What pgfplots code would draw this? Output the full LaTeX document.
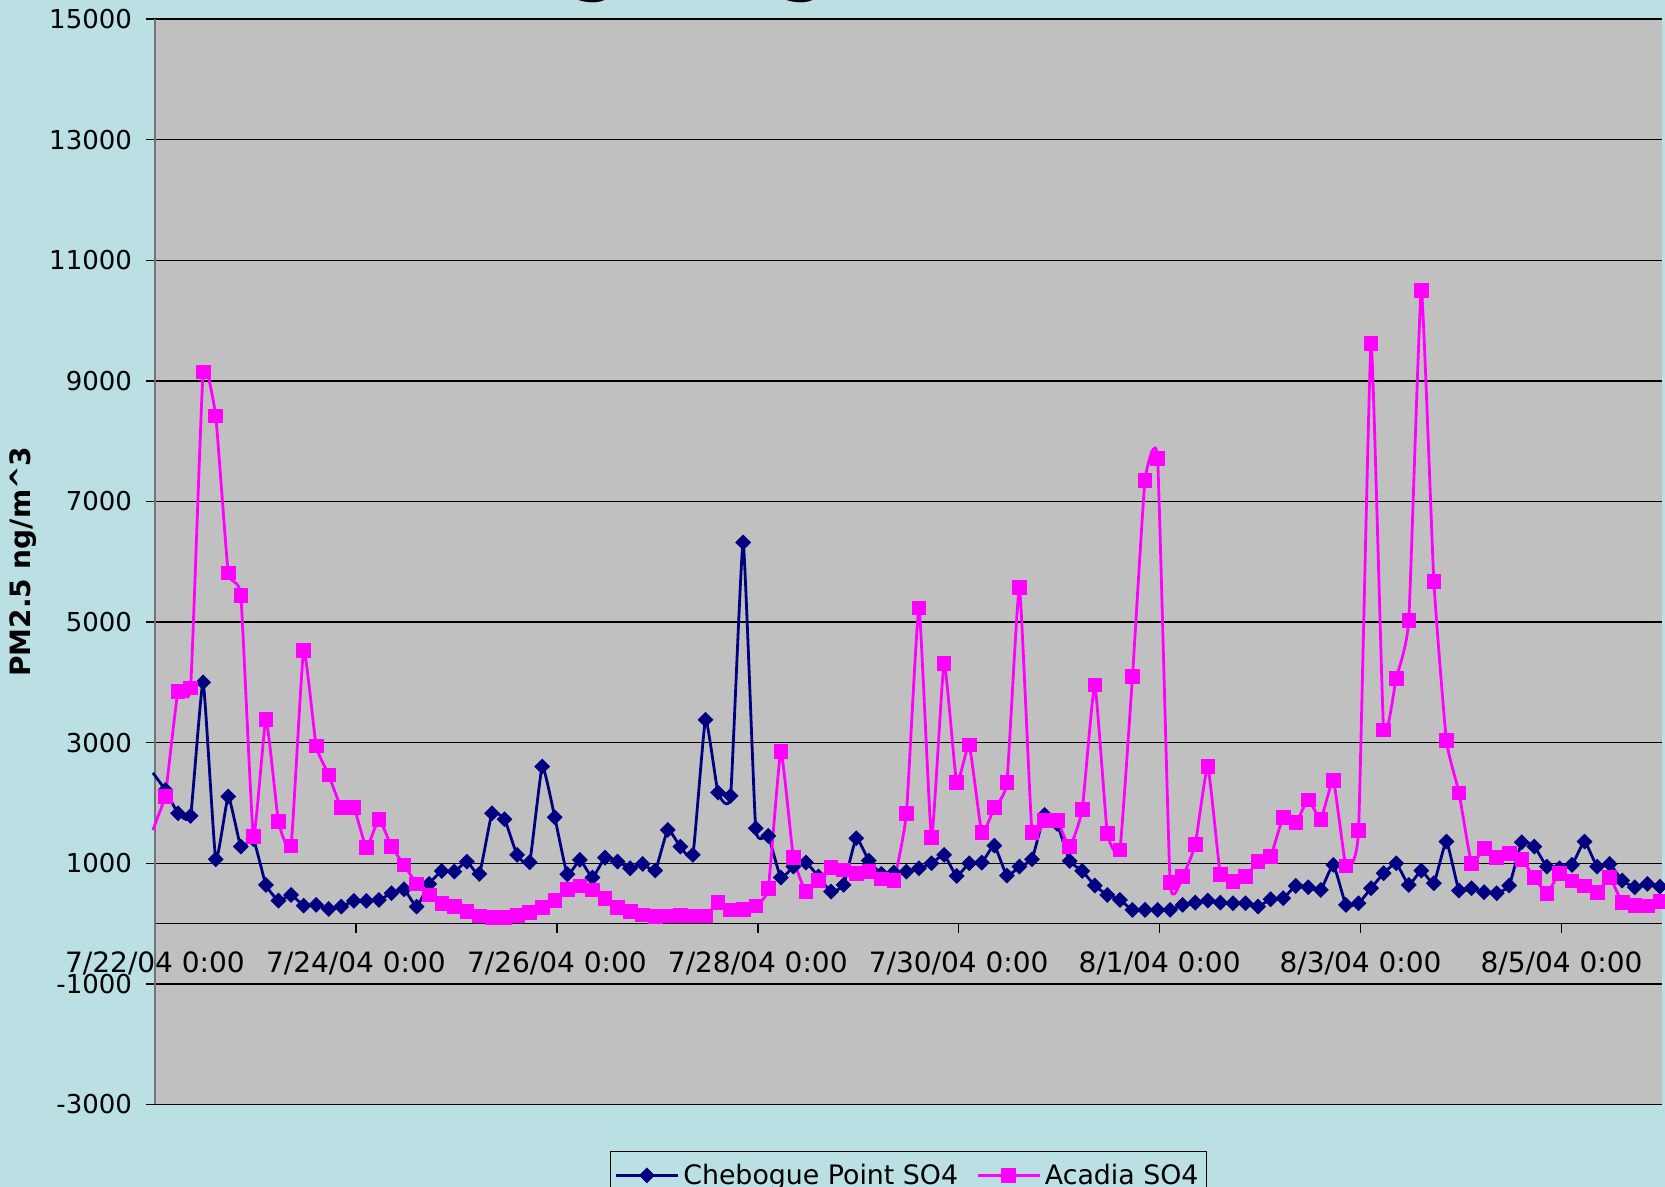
\documentclass[border=0pt]{standalone}
\usepackage{fontspec}
\setmainfont{DejaVu Sans}
\usepackage{pgfplots}
\usepackage{pgfplotstable}
\pgfplotsset{compat=1.18}
\definecolor{bgcyan}{RGB}{186,224,227}
\definecolor{plotgray}{RGB}{192,192,192}
\definecolor{navy}{RGB}{0,0,128}
\definecolor{mag}{RGB}{255,0,255}
\pgfplotsset{legend image code/.code={\draw[mark repeat=2,mark phase=2,#1] plot coordinates {(0pt,0pt) (15.5pt,0pt) (31pt,0pt)};}}

\pgfplotstableread{
h c a
2.5 2216 2106
5.5 1829 3854
8.5 1785 3905
11.5 4000 9146
14.5 1067 8418
17.5 2106 5816
20.5 1277 5437
23.5 1400 1443
26.5 641 3386
29.5 381 1691
32.5 475 1288
35.5 298 4525
38.5 310 2946
41.5 243 2465
44.5 282 1923
47.5 376 1929
50.5 376 1260
53.5 392 1730
56.5 503 1277
59.5 569 973
62.5 282 658
65.5 658 475
68.5 873 337
71.5 862 282
74.5 1028 199
77.5 824 127
80.5 1829 105
83.5 1730 105
86.5 1139 133
89.5 1017 182
92.5 2603 265
95.5 1763 381
98.5 818 569
101.5 1056 625
104.5 763 558
107.5 1094 420
110.5 1028 265
113.5 917 199
116.5 989 144
119.5 879 116
122.5 1553 125
125.5 1277 133
128.5 1139 127
131.5 3380 127
134.5 2172 348
137.5 2117 227
140.5 6320 238
143.5 1581 293
146.5 1454 586
149.5 763 2852
152.5 945 1100
155.5 1011 531
158.5 780 713
161.5 531 934
164.5 641 890
167.5 1415 835
170.5 1045 862
173.5 824 741
176.5 846 713
179.5 862 1829
182.5 917 5234
185.5 1000 1426
188.5 1139 4317
191.5 790 2338
194.5 1000 2962
197.5 1011 1514
200.5 1293 1923
203.5 796 2343
206.5 945 5570
209.5 1067 1514
212.5 1802 1708
215.5 1653 1708
218.5 1039 1277
221.5 873 1896
224.5 630 3956
227.5 475 1498
230.5 392 1221
233.5 227 4095
236.5 227 7350
239.5 227 7711
242.5 227 685
245.5 310 779
248.5 348 1315
251.5 381 2603
254.5 348 818
257.5 337 696
260.5 337 779
263.5 282 1028
266.5 403 1111
269.5 420 1763
272.5 625 1675
275.5 602 2051
278.5 558 1730
281.5 973 2371
284.5 310 956
287.5 337 1542
290.5 586 9620
293.5 835 3209
296.5 1000 4066
299.5 641 5028
302.5 879 10498
305.5 669 5669
308.5 1360 3035
311.5 547 2170
314.5 586 1000
317.5 520 1249
320.5 503 1094
323.5 630 1166
326.5 1349 1067
329.5 1277 763
332.5 945 503
335.5 917 835
338.5 973 707
341.5 1360 625
344.5 945 514
347.5 989 763
350.5 713 348
353.5 602 298
356.5 658 293
359.5 613 365
}\datatable

\begin{document}
\begin{tikzpicture}
\useasboundingbox (0,0) rectangle (832.5pt,593.5pt);
\clip (0,0) rectangle (832.5pt,593.5pt);
\fill[bgcyan] (0,0) rectangle (832.5pt,593.5pt);
\node[anchor=base, inner sep=0pt, font=\fontsize{44}{44}\selectfont] at (297.5pt,601.2pt) {g};
\node[anchor=base, inner sep=0pt, font=\fontsize{44}{44}\selectfont] at (401.5pt,601.2pt) {g};
\begin{axis}[
  at={(77.5pt,41.25pt)}, anchor=south west,
  scale only axis, width=753.5pt, height=542.75pt,
  axis x line=middle, axis y line=left,
  x axis line style={-, draw=black, line width=0.7pt},
  y axis line style={-, draw=black!55, line width=0.8pt},
  xtick align=outside, ytick align=outside,
  hide obscured x ticks=false, hide obscured y ticks=false,
  major tick length=4.5pt,
  tick style={black, line width=0.7pt},
  xmin=0, xmax=360, ymin=-3000, ymax=15000,
  enlarge x limits=false, enlarge y limits=false,
  clip=false,
  axis background/.style={fill=plotgray},
  ymajorgrids, grid style={black, line width=0.7pt},
  ytick={-3000,-1000,1000,3000,5000,7000,9000,11000,13000,15000},
  yticklabels={-3000,-1000,1000,3000,5000,7000,9000,11000,13000,15000},
  xtick={0,48,96,144,192,240,288,336},
  xticklabels={7/22/04 0:00,7/24/04 0:00,7/26/04 0:00,7/28/04 0:00,7/30/04 0:00,8/1/04 0:00,8/3/04 0:00,8/5/04 0:00},
  yticklabel style={font=\fontsize{13}{15}\selectfont, xshift=-3.5pt},
  xticklabel style={font=\fontsize{14}{16}\selectfont, yshift=-6pt},
  ylabel={PM2.5 ng/m\textasciicircum 3},
  ylabel style={at={(axis description cs:-0.0876,0.5)}, anchor=center, font=\fontsize{14}{16}\selectfont\bfseries},
  legend style={at={(0.5,-0.0428)}, anchor=north, legend columns=2, draw=black, line width=0.7pt,
    fill=bgcyan, font=\fontsize{13.4}{16}\selectfont, inner xsep=2pt, inner ysep=4pt,
    /tikz/every even column/.append style={column sep=7pt}},
]
\addplot[navy, line width=1.4pt, smooth, tension=0.25, forget plot] coordinates {(-0.5,2500) (2.5,2216)};
\addplot[mag, line width=1.4pt, smooth, tension=0.25, forget plot] coordinates {(-0.5,1550) (2.5,2106)};
\addplot[navy, line width=1.4pt, smooth, tension=0.25, mark=square*, mark size=2.6pt,
  mark options={rotate=45, solid, fill=navy, draw=navy, line width=0.4pt}] table[x=h,y=c]{\datatable};
\addplot[mag, line width=1.4pt, smooth, tension=0.25, mark=square*, mark size=3.4pt,
  mark options={solid, fill=mag, draw=mag, line width=0.4pt}] table[x=h,y=a]{\datatable};
\legend{Chebogue Point SO4, Acadia SO4}
\end{axis}
\end{tikzpicture}
\end{document}
